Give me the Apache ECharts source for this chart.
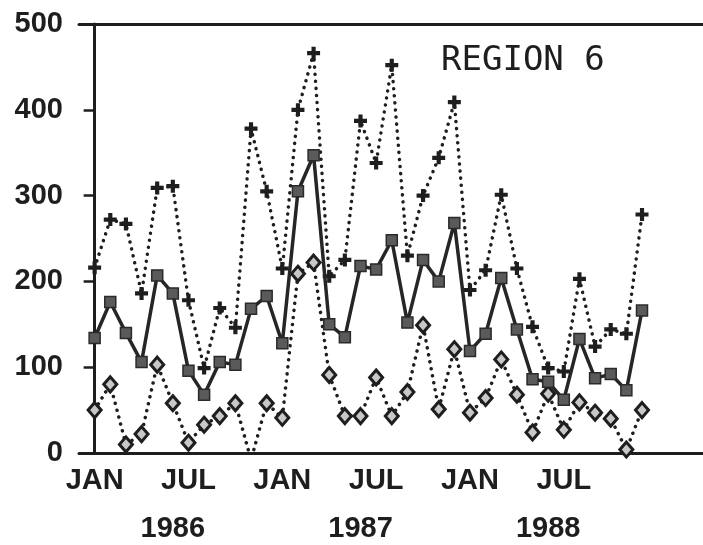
<!DOCTYPE html>
<html>
<head>
<meta charset="utf-8">
<script src="https://cdn.jsdelivr.net/npm/echarts@6/dist/echarts.min.js"></script>
<style>
  html, body { margin: 0; padding: 0; background: #fff; }
  #chart { width: 703px; height: 545px; }
</style>
</head>
<body>
<div id="chart"></div>
<script>
// month index 0 = JAN 1986 ... 35 = DEC 1988
const monthTickPos = [0, 6, 12, 18, 24, 30];
const monthTickLabels = ['JAN', 'JUL', 'JAN', 'JUL', 'JAN', 'JUL'];
const yearPos = [5, 17, 29];
const yearLabels = ['1986', '1987', '1988'];

// upper dotted series (+)
const upperValues = [216, 272, 267, 186, 309, 311, 178, 99, 169, 146, 378, 305,
  215, 400, 466, 206, 225, 387, 338, 452, 230, 300, 344, 409,
  190, 213, 301, 215, 147, 99, 95, 203, 124, 144, 139, 278];
// middle solid series (squares)
const middleValues = [134, 176, 140, 106, 207, 186, 96, 68, 106, 103, 168, 183,
  128, 305, 347, 150, 135, 218, 214, 248, 152, 225, 200, 268,
  119, 139, 204, 144, 86, 83, 62, 133, 87, 92, 73, 166];
// lower dotted series (diamonds)
const lowerValues = [50, 80, 10, 22, 103, 58, 12, 33, 43, 58, -8, 58,
  41, 209, 222, 91, 43, 43, 88, 43, 71, 149, 51, 121,
  47, 64, 109, 68, 24, 69, 27, 59, 47, 40, 4, 50];

const chart = echarts.init(document.getElementById('chart'), null, { renderer: 'canvas' });

function toPoints(values) {
  return values.map(function (v, i) { return [i, v]; });
}

const ink = '#1e1e1e';
const labelFont = { color: ink, fontFamily: 'Liberation Sans', fontWeight: 'bold', fontSize: 29 };
const plusPath = 'path://M3.4,0H6.6V3.4H10V6.6H6.6V10H3.4V6.6H0V3.4H3.4Z';

// round dots about 7px apart
const dotted = { color: ink, width: 3.5, type: [0.1, 7], cap: 'round' };

chart.setOption({
  backgroundColor: '#fff',
  animation: false,
  title: {
    text: 'REGION 6',
    left: 436,
    top: 39,
    textStyle: { fontFamily: 'DejaVu Sans Mono', fontWeight: 'normal', fontSize: 34, color: ink }
  },
  grid: { left: 79, right: -2, top: 24, bottom: 92 },
  xAxis: [{
    type: 'value',
    min: -1,
    max: 38.9,
    position: 'bottom',
    axisLine: { show: true, onZero: false, lineStyle: { color: ink, width: 3 } },
    axisTick: { show: false },
    splitLine: { show: false },
    axisLabel: Object.assign({
      customValues: monthTickPos,
      margin: 13,
      formatter: function (v) { return monthTickLabels[monthTickPos.indexOf(Math.round(v))] || ''; }
    }, labelFont)
  }, {
    type: 'value',
    min: -1,
    max: 38.9,
    position: 'bottom',
    axisLine: { show: false },
    axisTick: { show: false },
    splitLine: { show: false },
    axisLabel: Object.assign({
      customValues: yearPos,
      margin: 61,
      formatter: function (v) { return yearLabels[yearPos.indexOf(Math.round(v))] || ''; }
    }, labelFont)
  }, {
    type: 'value',
    min: -1,
    max: 38.9,
    position: 'top',
    axisLine: { show: true, onZero: false, lineStyle: { color: ink, width: 3 } },
    axisTick: { show: false },
    axisLabel: { show: false },
    splitLine: { show: false }
  }],
  yAxis: {
    type: 'value',
    min: 0,
    max: 500,
    interval: 100,
    axisLine: { show: true, lineStyle: { color: ink, width: 3 } },
    axisTick: { show: true, length: 11, lineStyle: { color: ink, width: 2.5 } },
    splitLine: { show: false },
    axisLabel: Object.assign({ margin: 16 }, labelFont)
  },
  series: [{
    name: 'upper',
    type: 'line',
    data: toPoints(upperValues),
    clip: true,
    symbol: plusPath,
    symbolSize: 13,
    itemStyle: { color: ink },
    lineStyle: dotted,
    z: 2
  }, {
    name: 'lower',
    type: 'line',
    data: toPoints(lowerValues),
    clip: true,
    symbol: 'diamond',
    symbolSize: [13, 15],
    itemStyle: { color: '#c8c8c8', borderColor: ink, borderWidth: 3 },
    lineStyle: dotted,
    z: 2
  }, {
    name: 'middle',
    type: 'line',
    data: toPoints(middleValues),
    clip: true,
    symbol: 'rect',
    symbolSize: 11,
    itemStyle: { color: '#5a5a5a', borderColor: '#2a2a2a', borderWidth: 1.5 },
    lineStyle: { color: '#262626', width: 3.5 },
    z: 3
  }]
});
</script>
</body>
</html>
